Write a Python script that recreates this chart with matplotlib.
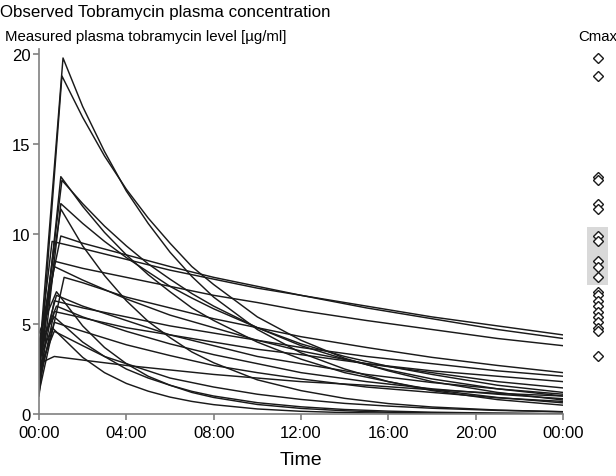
import matplotlib
matplotlib.use("Agg")
import matplotlib.pyplot as plt

plt.rcParams['font.family'] = ['Liberation Sans', 'DejaVu Sans']

# ---- data ----
title = "Observed Tobramycin plasma concentration"
ylabel_text = "Measured plasma tobramycin level [µg/ml]"
xlabel_text = "Time"
cmax_label = "Cmax"

x_ticks_h = [0, 4, 8, 12, 16, 20, 24]
x_tick_labels = ["00:00", "04:00", "08:00", "12:00", "16:00", "20:00", "00:00"]
y_ticks = [0, 5, 10, 15, 20]

# per patient: concentration at time 0, time of peak (h), peak value (Cmax)
c_start = [3.0, 2.0, 1.5, 2.5, 1.0, 3.5, 4.0, 3.5, 2.5, 3.0, 1.2,
           4.5, 3.0, 2.0, 3.5, 1.5, 4.0, 2.0, 3.0, 2.5, 2.8]
t_peak = [1.1, 1.05, 1.0, 1.05, 1.0, 1.0, 1.0, 0.6, 0.7, 0.7, 1.15,
          0.8, 0.8, 0.7, 0.8, 0.7, 0.7, 0.7, 0.6, 0.7, 0.7]
cmax = [19.8, 18.8, 13.2, 13.0, 11.7, 11.4, 9.9, 9.6, 8.5, 8.2, 7.6,
        6.8, 6.6, 6.3, 6.0, 5.7, 5.4, 5.1, 4.8, 4.6, 3.2]

# concentrations after the peak, at these clock hours
hours_fine = [2, 3, 4, 5, 6, 7, 8, 10, 12, 14, 16, 18, 21, 24]
hours_coarse = [2, 4, 6, 8, 10, 12, 15, 18, 21, 24]

p01 = [17.1, 14.6, 12.4, 10.6, 9.0, 7.65, 6.5, 4.7, 3.4, 2.5, 1.8, 1.3, 0.80, 0.49]
p02 = [16.5, 14.35, 12.5, 10.9, 9.5, 8.2, 7.2, 5.4, 4.1, 3.1, 2.4, 1.8, 1.2, 0.78]
p03 = [11.55, 10.1, 8.85, 7.75, 6.8, 5.9, 5.2, 4.0, 3.05, 2.3, 1.8, 1.35, 0.92, 0.62]
p04 = [11.7, 10.45, 9.35, 8.35, 7.5, 6.7, 6.0, 4.8, 3.8, 3.05, 2.45, 1.95, 1.4, 1.0]
p05 = [10.6, 9.6, 8.7, 7.9, 7.1, 6.45, 5.85, 4.8, 3.9, 3.2, 2.65, 2.2, 1.6, 1.2]
p06 = [9.35, 7.7, 6.3, 5.15, 4.25, 3.45, 2.85, 1.9, 1.3, 0.87, 0.58, 0.39, 0.22, 0.12]
p07 = [9.5, 8.85, 8.2, 7.6, 7.1, 6.6, 5.9, 5.3, 4.7, 4.2]
p08 = [9.2, 8.6, 8.0, 7.5, 7.0, 6.6, 6.0, 5.4, 4.9, 4.4]
p09 = [8.1, 7.6, 7.1, 6.6, 6.2, 5.75, 5.2, 4.7, 4.2, 3.8]
p10 = [7.45, 6.4, 5.5, 4.8, 4.1, 3.5, 2.8, 2.3, 1.8, 1.45]
p11 = [7.3, 6.5, 5.9, 5.3, 4.8, 4.3, 3.7, 3.15, 2.7, 2.3]
p12 = [4.9, 3.7, 2.8, 2.1, 1.6, 1.2, 0.92, 0.53, 0.31, 0.18, 0.10, 0.06, 0.03, 0.01]
p13 = [6.0, 5.2, 4.4, 3.8, 3.2, 2.8, 2.2, 1.75, 1.4, 1.1]
p14 = [5.9, 5.4, 4.9, 4.5, 4.1, 3.7, 3.2, 2.8, 2.4, 2.1]
p15 = [5.4, 4.6, 3.9, 3.3, 2.8, 2.3, 1.8, 1.4, 1.1, 0.85]
p16 = [5.35, 4.8, 4.4, 4.0, 3.6, 3.3, 2.8, 2.4, 2.1, 1.8]
p17 = [4.0, 3.2, 2.5, 2.0, 1.6, 1.26, 1.0, 0.63, 0.40, 0.25, 0.16, 0.10, 0.05, 0.02]
p18 = [4.6, 3.85, 3.25, 2.7, 2.3, 1.95, 1.5, 1.2, 0.9, 0.7]
p19 = [3.15, 2.3, 1.7, 1.27, 0.94, 0.70, 0.52, 0.28, 0.15, 0.08, 0.05, 0.03, 0.01, 0.01]
p20 = [3.8, 3.2, 2.8, 2.4, 2.0, 1.75, 1.5, 1.1, 0.81, 0.59, 0.44, 0.32, 0.20, 0.13]
p21 = [3.0, 2.7, 2.45, 2.2, 2.0, 1.8, 1.6, 1.35, 1.15, 1.0]
decay_values = [p01, p02, p03, p04, p05, p06, p07, p08, p09, p10, p11,
                p12, p13, p14, p15, p16, p17, p18, p19, p20, p21]

# shaded band in the Cmax column
cmax_band_low = 7.2
cmax_band_high = 10.4

# ---- figure ----
W, H = 616, 477
fig = plt.figure(figsize=(W / 100, H / 100), dpi=100)

y_max = 20.3
ax = fig.add_axes([39 / W, 1 - 415 / H, (563 - 39) / W, (415 - 50) / H])
for c0, tp, cm, vals in zip(c_start, t_peak, cmax, decay_values):
    hrs = hours_fine if len(vals) == len(hours_fine) else hours_coarse
    xs = [0, tp] + hrs
    ys = [c0, cm] + vals
    ax.plot(xs, ys, color='#1a1a1a', lw=1.05, solid_joinstyle='round')

ax.set_xlim(0, 24)
ax.set_ylim(0, y_max)
ax.set_xticks(x_ticks_h)
ax.set_xticklabels(x_tick_labels)
ax.set_yticks(y_ticks)
for s in ['top', 'right']:
    ax.spines[s].set_visible(False)
for s in ['left', 'bottom']:
    ax.spines[s].set_color('#808080')
    ax.spines[s].set_linewidth(1.2)
ax.tick_params(axis='both', colors='#808080', labelcolor='black',
               labelsize=12, length=4, width=1.2, direction='out')
ax.tick_params(axis='y', pad=2)
ax.tick_params(axis='x', pad=4)
ax.set_xlabel(xlabel_text, fontsize=14, labelpad=8)

# Cmax column
axc = fig.add_axes([587 / W, 1 - 415 / H, 21 / W, (415 - 50) / H])
axc.set_xlim(0, 1)
axc.set_ylim(0, y_max)
axc.axhspan(cmax_band_low, cmax_band_high, color='#d9d9d9', lw=0)
axc.plot([0.5] * len(cmax), cmax, ls='none', marker='D', ms=5.5,
         mfc='white', mec='#1a1a1a', mew=1.0)
axc.axis('off')

fig.text(0 / W, 1 - 12 / H, title, fontsize=12.2, ha='left', va='center')
fig.text(5 / W, 1 - 37 / H, ylabel_text, fontsize=10.8, ha='left', va='center')
fig.text(598 / W, 1 - 37 / H, cmax_label, fontsize=10.8, ha='center', va='center')

fig.savefig("out.png", dpi=100)
